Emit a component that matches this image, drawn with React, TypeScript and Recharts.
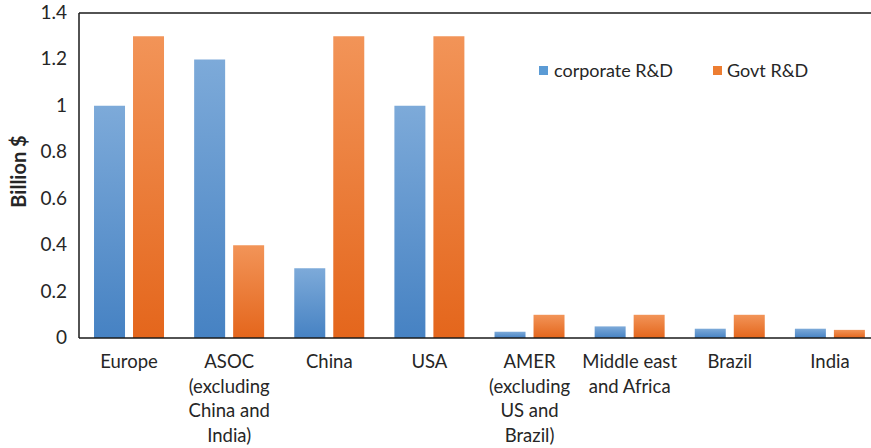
import React from 'react';
import { BarChart, Bar, XAxis, YAxis, ReferenceLine, Label } from 'recharts';

const categories = [
  'Europe',
  'ASOC\n(excluding\nChina and\nIndia)',
  'China',
  'USA',
  'AMER\n(excluding\nUS and\nBrazil)',
  'Middle east\nand Africa',
  'Brazil',
  'India',
];
const corporateRD = [1.0, 1.2, 0.3, 1.0, 0.027, 0.05, 0.04, 0.04];
const govtRD = [1.3, 0.4, 1.3, 1.3, 0.1, 0.1, 0.1, 0.035];
const yTicks = [0, 0.2, 0.4, 0.6, 0.8, 1, 1.2, 1.4];
const seriesNames = ['corporate R&D', 'Govt R&D'];

const data = categories.map((c, i) => ({ name: c, corporate: corporateRD[i], govt: govtRD[i] }));

const FONT = 'Lato, "Open Sans", sans-serif';
const TEXT = '#262626';

const XTick = (props: any) => {
  const { x, y, payload } = props;
  const lines = String(payload.value).split('\n');
  return (
    <g transform={`translate(${x},${y})`}>
      {lines.map((l: string, i: number) => (
        <text key={i} x={0} y={22 + i * 24.5} textAnchor="middle" fontSize={18.5} fontFamily={FONT} fill={TEXT}>
          {l}
        </text>
      ))}
    </g>
  );
};

const YTick = (props: any) => {
  const { x, y, payload } = props;
  return (
    <text x={x} y={y} dy={6} textAnchor="end" fontSize={19} fontFamily={FONT} fill={TEXT}>
      {String(payload.value)}
    </text>
  );
};

const LegendBox = () => (
  <div
    style={{
      position: 'absolute',
      top: 59,
      left: 539,
      display: 'flex',
      alignItems: 'center',
      fontFamily: FONT,
      fontSize: 18,
      color: TEXT,
      whiteSpace: 'nowrap',
    }}
  >
    <span style={{ width: 9, height: 9, background: '#5B9BD5', display: 'inline-block', marginRight: 6 }} />
    <span style={{ marginRight: 40 }}>{seriesNames[0]}</span>
    <span style={{ width: 9, height: 9, background: '#ED7D31', display: 'inline-block', marginRight: 5 }} />
    <span>{seriesNames[1]}</span>
  </div>
);

export default function App() {
  return (
    <div style={{ position: 'absolute', left: 0, top: 0, width: 871, height: 448, overflow: 'hidden', background: '#fff' }}>
      <BarChart
        width={880}
        height={448}
        data={data}
        margin={{ top: 13, right: 0, bottom: 0, left: 0 }}
        barCategoryGap="15%"
        barGap={8}
      >
        <defs>
          <linearGradient id="gBlue" x1="0" y1="0" x2="0" y2="1">
            <stop offset="0%" stopColor="#7DAAD9" />
            <stop offset="100%" stopColor="#4682C3" />
          </linearGradient>
          <linearGradient id="gOrange" x1="0" y1="0" x2="0" y2="1">
            <stop offset="0%" stopColor="#F29458" />
            <stop offset="100%" stopColor="#E4661C" />
          </linearGradient>
        </defs>
        <XAxis
          dataKey="name"
          interval={0}
          tickLine={false}
          axisLine={{ stroke: '#1a1a1a', strokeWidth: 1.5 }}
          height={110}
          tick={<XTick />}
        />
        <YAxis
          domain={[0, 1.4]}
          ticks={yTicks}
          width={79}
          tickLine={false}
          tickMargin={6}
          axisLine={{ stroke: '#1a1a1a', strokeWidth: 1.5 }}
          tick={<YTick />}
        >
          <Label
            content={(p: any) => {
              const vb = p.viewBox || {};
              const cx = 18;
              const cy = vb.y + vb.height / 2 - 4;
              return (
                <text
                  x={cx}
                  y={cy}
                  transform={`rotate(-90, ${cx}, ${cy})`}
                  textAnchor="middle"
                  dominantBaseline="central"
                  fontSize={20}
                  fontWeight="bold"
                  fontFamily={FONT}
                  fill={TEXT}
                >
                  Billion $
                </text>
              );
            }}
          />
        </YAxis>
        <ReferenceLine y={1.4} stroke="#1a1a1a" strokeWidth={1.5} />
        <Bar dataKey="corporate" name={seriesNames[0]} fill="url(#gBlue)" isAnimationActive={false} />
        <Bar dataKey="govt" name={seriesNames[1]} fill="url(#gOrange)" isAnimationActive={false} />
      </BarChart>
      <LegendBox />
    </div>
  );
}
